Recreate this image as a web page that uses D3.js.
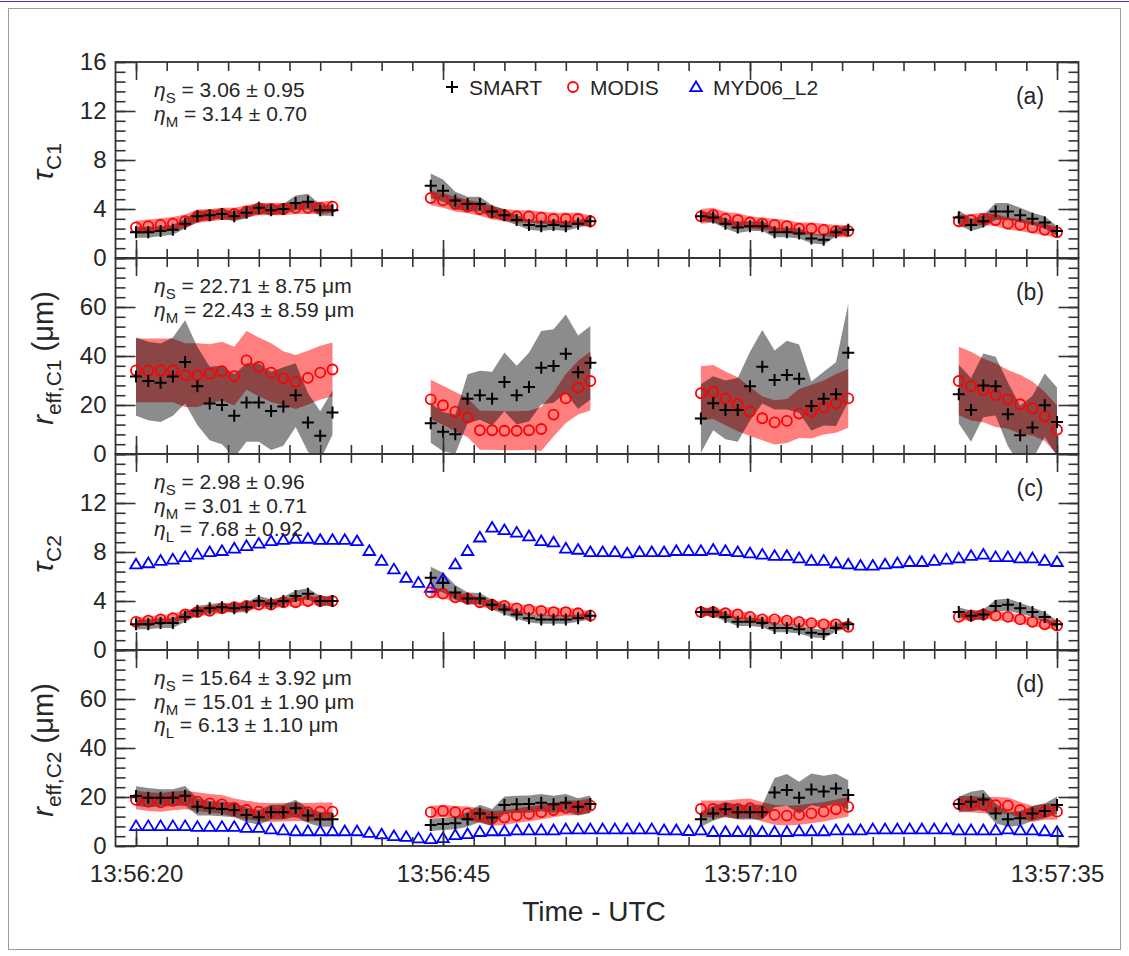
<!DOCTYPE html>
<html>
<head>
<meta charset="utf-8">
<script src="https://cdn.jsdelivr.net/npm/d3@7"></script>
<style>
body { margin: 0; background: #fff; }
svg { display: block; }
text { font-family: "Liberation Sans", Arial, Helvetica, sans-serif; fill: #262626; }
</style>
</head>
<body>
<div id="chart"></div>
<script>
// seconds after 13:56:20 UTC
var smartTimes = [0,1,2,3,4,5,6,7,8,9,10,11,12,13,14,15,16,
	24,25,26,27,28,29,30,31,32,33,34,35,36,37,
	46,47,48,49,50,51,52,53,54,55,56,57,58,
	67,68,69,70,71,72,73,74,75];
var lidarTimes = [0,1,2,3,4,5,6,7,8,9,10,11,12,13,14,15,16,17,18,19,20,21,22,23,24,25,26,27,28,29,
	30,31,32,33,34,35,36,37,38,39,40,41,42,43,44,45,46,47,48,49,50,51,52,53,54,55,56,57,58,59,
	60,61,62,63,64,65,66,67,68,69,70,71,72,73,74,75];

// (a) tau C1
var tauC1Smart = [2.1,2.1,2.2,2.3,2.8,3.4,3.5,3.6,3.4,3.7,4.1,3.9,4.0,4.5,4.6,3.9,3.9,
	5.9,5.5,4.7,4.4,4.4,3.8,3.5,3.1,2.7,2.6,2.7,2.6,2.8,3.0,
	3.4,3.3,2.8,2.5,2.6,2.6,2.1,2.1,2.0,1.6,1.5,2.1,2.3,
	3.3,2.7,3.0,3.8,3.8,3.5,3.2,2.9,2.2];
var tauC1SmartSd = [0.45,0.45,0.4,0.4,0.4,0.45,0.4,0.4,0.4,0.45,0.45,0.4,0.4,0.6,0.65,0.45,0.45,
	1.0,0.9,0.7,0.6,0.6,0.5,0.45,0.4,0.4,0.4,0.4,0.4,0.3,0.3,
	0.4,0.4,0.4,0.45,0.4,0.4,0.4,0.4,0.4,0.4,0.4,0.35,0.4,
	0.6,0.5,0.5,0.7,0.7,0.6,0.5,0.5,0.4];
var tauC1Modis = [2.5,2.6,2.7,2.8,3.0,3.4,3.5,3.6,3.6,3.8,4.0,4.0,4.0,4.1,4.1,4.1,4.2,
	4.9,4.7,4.4,4.2,4.0,3.7,3.5,3.4,3.4,3.3,3.2,3.2,3.2,3.0,
	3.4,3.5,3.2,3.1,2.9,2.8,2.7,2.6,2.4,2.4,2.3,2.2,2.2,
	3.0,3.1,3.2,3.1,2.8,2.7,2.5,2.3,2.1];
var tauC1ModisSd = [0.55,0.55,0.55,0.55,0.55,0.55,0.5,0.5,0.5,0.5,0.5,0.5,0.5,0.5,0.5,0.5,0.5,
	0.6,0.6,0.6,0.55,0.55,0.55,0.5,0.5,0.5,0.5,0.5,0.5,0.5,0.5,
	0.6,0.6,0.55,0.55,0.5,0.5,0.5,0.5,0.5,0.5,0.5,0.5,0.5,
	0.5,0.5,0.5,0.5,0.5,0.5,0.5,0.45,0.45];

// (b) r_eff C1
var refC1Smart = [31.6,29.8,29.1,31.6,37.6,27.7,20.6,20.0,15.6,21.0,21.0,17.6,19.4,24.0,12.9,7.4,16.9,
	12.6,9.1,8.1,22.6,24.0,22.6,29.4,24.0,27.3,35.2,35.9,40.9,33.4,37.2,
	14.5,20.7,18.0,18.0,27.7,35.6,30.2,32.2,30.7,19.6,22.6,24.4,41.3,
	24.4,18.0,28.0,27.7,16.2,7.7,10.8,19.9,13.1];
var refC1SmartSd = [16,16,16,16,17,16,15,16,17,16,16,16,16,13,12,10,9,
	8,8,8,10,10,11,12,12,14,15,15,16,15,15,
	14,11,12,13,14,15,12,14,14,10,11,13,20,
	12,13,13,12,13,12,13,13,14];
var refC1Modis = [34.1,34.1,34.1,34.1,32.2,32.2,32.8,33.8,31.8,38.2,35.6,33.2,30.9,29.4,31.1,33.2,34.5,
	22.3,19.9,17.3,14.9,9.7,9.7,9.5,9.5,9.7,10.2,16.1,22.7,27.1,29.8,
	24.8,25.3,22.7,20.3,17.3,14.6,12.9,13.5,16.5,17.3,19.0,20.7,22.7,
	29.8,27.7,26.0,24.0,22.3,20.3,18.6,15.3,9.9];
var refC1ModisSd = [13,13,13,13,13,13,12,12,12,12,12,12,11,11,11,11,11,
	8,8,8,8,8,8,8,8,8,9,9,10,11,12,
	11,11,11,11,10,9,9,9,10,11,11,12,12,
	14,14,13,13,12,12,11,10,10];

// (c) tau C2
var tauC2Smart = [2.1,2.1,2.2,2.2,2.7,3.2,3.4,3.5,3.4,3.5,4.0,3.8,4.0,4.4,4.6,4.0,4.0,
	5.9,5.5,4.7,4.2,4.2,3.7,3.3,2.9,2.6,2.5,2.5,2.5,2.6,2.8,
	3.1,3.1,2.7,2.3,2.3,2.2,1.8,1.8,1.7,1.4,1.3,1.8,2.1,
	3.1,2.8,2.9,3.6,3.7,3.4,3.1,2.7,2.1];
var tauC2SmartSd = [0.4,0.4,0.4,0.4,0.4,0.4,0.35,0.35,0.35,0.4,0.4,0.35,0.35,0.45,0.45,0.4,0.4,
	0.9,0.8,0.6,0.5,0.45,0.4,0.4,0.35,0.35,0.35,0.35,0.35,0.3,0.3,
	0.35,0.35,0.35,0.35,0.35,0.35,0.35,0.35,0.35,0.35,0.35,0.3,0.3,
	0.4,0.4,0.4,0.5,0.5,0.45,0.4,0.4,0.3];
var tauC2Modis = [2.3,2.4,2.5,2.6,2.9,3.1,3.2,3.4,3.5,3.6,3.7,3.7,3.9,3.9,4.0,4.0,4.0,
	4.7,4.6,4.3,4.2,3.9,3.7,3.6,3.4,3.3,3.2,3.1,3.1,3.0,2.8,
	3.1,3.1,3.0,2.9,2.7,2.5,2.5,2.4,2.3,2.2,2.1,2.1,1.9,
	2.7,2.8,2.9,2.8,2.7,2.5,2.3,2.1,2.0];
var tauC2ModisSd = [0.35,0.35,0.35,0.35,0.35,0.35,0.35,0.35,0.35,0.35,0.35,0.35,0.35,0.35,0.35,0.35,0.35,
	0.4,0.4,0.35,0.35,0.35,0.35,0.35,0.35,0.35,0.35,0.35,0.35,0.35,0.35,
	0.3,0.3,0.3,0.3,0.3,0.3,0.3,0.3,0.3,0.3,0.3,0.3,0.3,
	0.35,0.35,0.35,0.35,0.35,0.35,0.35,0.35,0.35];
var tauC2Lidar = [7.0,7.1,7.3,7.4,7.6,7.8,8.0,8.1,8.3,8.5,
	8.7,8.9,9.0,9.1,9.1,9.0,9.0,9.0,8.9,8.1,
	7.3,6.6,5.9,5.5,5.1,5.8,7.0,8.1,9.2,10.0,
	9.8,9.6,9.3,8.9,8.8,8.3,8.2,8.0,8.0,8.0,
	7.9,8.0,8.0,8.0,8.1,8.1,8.1,8.2,8.1,8.0,
	7.9,7.8,7.7,7.7,7.5,7.3,7.3,7.1,7.0,6.9,
	6.9,7.0,7.1,7.2,7.2,7.3,7.4,7.5,7.7,7.8,
	7.6,7.6,7.5,7.5,7.3,7.2];

// (d) r_eff C2
var refC2Smart = [20.4,19.7,19.7,19.7,20.5,16.0,15.4,15.1,14.7,12.7,11.7,13.8,13.8,15.4,12.4,10.9,10.9,
	8.6,9.0,9.3,10.9,13.3,11.6,16.7,17.0,17.1,17.7,17.0,17.7,16.0,17.1,
	10.9,13.3,15.0,13.8,13.8,13.8,21.8,22.9,19.7,23.1,22.2,23.5,20.8,
	17.1,18.1,19.0,13.3,10.9,11.3,13.3,14.3,16.7];
var refC2SmartSd = [4,4,3.5,3.5,4,3.5,3,3,3,3,3,3,3,3.5,3,3,3,
	2.5,2.5,2.5,3,3.5,3.5,3.5,3.5,3.5,3.5,3.5,3.5,3.5,3.5,
	3,3,3,3,3,3,6,6.5,6.5,6.5,6.5,6,6,
	3,4,4,4,3,3,3,3,3.5];
var refC2Modis = [18.8,18.1,17.8,18.4,18.8,18.1,17.4,17.0,15.6,14.7,14.0,13.6,13.8,14.0,13.8,14.0,14.0,
	13.8,14.3,13.8,13.3,12.4,11.3,11.6,12.4,13.1,13.8,14.7,15.6,15.6,16.5,
	15.1,15.1,15.1,15.1,15.4,14.0,12.7,12.4,12.7,13.3,14.0,15.0,16.0,
	17.1,17.1,16.7,16.7,16.5,14.7,13.1,14.0,14.0];
var refC2ModisSd = [3.8,3.8,3.8,3.8,3.8,3.8,3.8,3.8,3.8,3.8,3.8,3.8,3.8,3.8,3.8,3.8,3.8,
	2.5,2.5,2.5,2.8,3,3,3,3,3,3,3,3,3,3,
	3.5,3.5,3.5,4,4,4,4,4,4,4,4,4,4,
	3.3,3.3,3.3,3.3,3.3,3.3,3.3,3.3,3.3];
var refC2Lidar = [8.2,8.2,8.2,8.2,8.2,7.9,7.9,7.9,7.9,7.5,
	7.5,6.9,6.5,6.1,6.1,6.1,6.1,6.1,6.1,5.4,
	4.8,4.1,3.8,3.2,2.9,3.3,4.5,4.9,5.8,6.1,
	6.1,6.5,6.5,6.5,6.5,6.9,6.9,6.9,6.9,6.9,
	6.9,6.9,6.9,6.5,6.5,6.2,6.5,5.8,5.8,5.8,
	5.8,5.8,5.8,5.8,6.1,6.1,6.1,6.5,6.5,6.5,
	6.9,6.9,6.9,6.9,6.9,6.9,6.9,6.5,6.5,6.5,
	6.5,6.9,6.5,6.5,6.1,5.8];

var statsA = [["S", "3.06 \u00b1 0.95"], ["M", "3.14 \u00b1 0.70"]];
var statsB = [["S", "22.71 \u00b1 8.75 \u03bcm"], ["M", "22.43 \u00b1 8.59 \u03bcm"]];
var statsC = [["S", "2.98 \u00b1 0.96"], ["M", "3.01 \u00b1 0.71"], ["L", "7.68 \u00b1 0.92"]];
var statsD = [["S", "15.64 \u00b1 3.92 \u03bcm"], ["M", "15.01 \u00b1 1.90 \u03bcm"], ["L", "6.13 \u00b1 1.10 \u03bcm"]];

var tauTicks = [0,4,8,12,16];
var refTicks = [0,20,40,60,80];
var xTickSec = [0,25,50,75];
var xTickLabels = ["13:56:20","13:56:45","13:57:10","13:57:35"];
var legendNames = ["SMART","MODIS","MYD06_L2"];

var W = 1129, H = 956;
var left = 115.5, right = 1078.5;
var tops = [62, 258, 454, 650];
var ph = 196;

var panels = [
	{lab:"(a)", dom:[0,16], major:tauTicks, minor:0.8, shown:[0,4,8,12,16], s:tauC1Smart, sSd:tauC1SmartSd, m:tauC1Modis, mSd:tauC1ModisSd, l:null, stats:statsA, tsub:"C1", kind:"tau"},
	{lab:"(b)", dom:[0,80], major:refTicks, minor:4, shown:[0,20,40,60], s:refC1Smart, sSd:refC1SmartSd, m:refC1Modis, mSd:refC1ModisSd, l:null, stats:statsB, tsub:"eff,C1", kind:"ref"},
	{lab:"(c)", dom:[0,16], major:tauTicks, minor:0.8, shown:[0,4,8,12], s:tauC2Smart, sSd:tauC2SmartSd, m:tauC2Modis, mSd:tauC2ModisSd, l:tauC2Lidar, stats:statsC, tsub:"C2", kind:"tau"},
	{lab:"(d)", dom:[0,80], major:refTicks, minor:4, shown:[0,20,40,60], s:refC2Smart, sSd:refC2SmartSd, m:refC2Modis, mSd:refC2ModisSd, l:refC2Lidar, stats:statsD, tsub:"eff,C2", kind:"ref"}
];

var x = d3.scaleLinear().domain([-1.67, 76.75]).range([left, right]);

var svg = d3.select("#chart").append("svg")
	.attr("width", W)
	.attr("height", H);

svg.append("rect")
	.attr("x", 8.5).attr("y", 8.5)
	.attr("width", 1112).attr("height", 941)
	.attr("fill", "none")
	.attr("stroke", "#9a9aa8")
	.attr("stroke-width", 1);
svg.append("line")
	.attr("x1", 0).attr("x2", W)
	.attr("y1", 1.5).attr("y2", 1.5)
	.attr("stroke", "#3a3acc")
	.attr("stroke-width", 1.2);

// split SMART/MODIS samples into flight segments
var segs = [];
smartTimes.forEach(function(t, i) {
	if (i == 0 || t - smartTimes[i-1] > 1) segs.push([]);
	segs[segs.length-1].push(i);
});

var crossPath = "M-6,0H6M0,-6V6";
var triPath = "M0,-5.5L5.8,4.2L-5.8,4.2Z";

panels.forEach(function(p, k) {
	var top = tops[k];
	var y = d3.scaleLinear().domain(p.dom).range([top + ph, top]);

	svg.append("clipPath").attr("id", "clip" + k)
		.append("rect")
		.attr("x", left).attr("y", top)
		.attr("width", right - left).attr("height", ph);

	var g = svg.append("g").attr("clip-path", "url(#clip" + k + ")");

	function band(vals, sd) {
		return d3.area()
			.x(function(i) { return x(smartTimes[i]); })
			.y0(function(i) { return y(vals[i] - sd[i]); })
			.y1(function(i) { return y(vals[i] + sd[i]); });
	}

	var modisBand = band(p.m, p.mSd);
	var smartBand = band(p.s, p.sSd);
	segs.forEach(function(s) {
		g.append("path").attr("d", modisBand(s)).attr("fill", "rgba(255,0,0,0.5)");
	});
	segs.forEach(function(s) {
		g.append("path").attr("d", smartBand(s)).attr("fill", "rgba(0,0,0,0.45)");
	});

	if (p.l) {
		g.selectAll(".tri")
			.data(p.l)
			.enter().append("path")
			.attr("d", triPath)
			.attr("transform", function(d, i) { return "translate(" + x(lidarTimes[i]) + "," + y(d) + ")"; })
			.attr("fill", "none")
			.attr("stroke", "#0000ff")
			.attr("stroke-width", 1.8);
	}

	g.selectAll(".circ")
		.data(p.m)
		.enter().append("circle")
		.attr("cx", function(d, i) { return x(smartTimes[i]); })
		.attr("cy", function(d) { return y(d); })
		.attr("r", 5)
		.attr("fill", "none")
		.attr("stroke", "#ff0000")
		.attr("stroke-width", 1.8);

	g.selectAll(".cross")
		.data(p.s)
		.enter().append("path")
		.attr("d", crossPath)
		.attr("transform", function(d, i) { return "translate(" + x(smartTimes[i]) + "," + y(d) + ")"; })
		.attr("stroke", "#000")
		.attr("stroke-width", 2);

	// axes, all ticks pointing inward
	var minorY = d3.range(p.dom[0], p.dom[1] + 0.001, p.minor);
	var ax = svg.append("g").attr("class", "axes");
	ax.append("g").attr("transform", "translate(" + left + ",0)")
		.call(d3.axisLeft(y).tickValues(minorY).tickSize(-10).tickFormat(""));
	ax.append("g").attr("transform", "translate(" + right + ",0)")
		.call(d3.axisRight(y).tickValues(minorY).tickSize(-10).tickFormat(""));
	ax.append("g").attr("transform", "translate(" + left + ",0)")
		.call(d3.axisLeft(y).tickValues(p.major).tickSize(-20).tickPadding(9)
			.tickFormat(function(d) { return p.shown.indexOf(d) >= 0 ? d : ""; }));
	ax.append("g").attr("transform", "translate(" + right + ",0)")
		.call(d3.axisRight(y).tickValues(p.major).tickSize(-20).tickFormat(""));

	var minorX = d3.range(0, 76, 2.5);
	ax.append("g").attr("transform", "translate(0," + top + ")")
		.call(d3.axisTop(x).tickValues(minorX).tickSize(-9).tickFormat(""));
	ax.append("g").attr("transform", "translate(0," + (top + ph) + ")")
		.call(d3.axisBottom(x).tickValues(minorX).tickSize(-9).tickFormat(""));
	ax.append("g").attr("transform", "translate(0," + top + ")")
		.call(d3.axisTop(x).tickValues(xTickSec).tickSize(-18).tickFormat(""));
	ax.append("g").attr("transform", "translate(0," + (top + ph) + ")")
		.call(d3.axisBottom(x).tickValues(xTickSec).tickSize(-18).tickPadding(19)
			.tickFormat(function(d, i) { return k == 3 ? xTickLabels[i] : ""; }));

	ax.selectAll(".domain").remove();
	ax.selectAll(".tick line").attr("stroke", "#333").attr("stroke-width", 1.6);
	ax.selectAll(".tick text").style("font-size", "24px").attr("fill", "#262626");

	svg.append("rect")
		.attr("x", left).attr("y", top)
		.attr("width", right - left).attr("height", ph)
		.attr("fill", "none")
		.attr("stroke", "#333")
		.attr("stroke-width", 1.8);

	// statistics text
	p.stats.forEach(function(st, j) {
		var t = svg.append("text")
			.attr("x", 154)
			.attr("y", top + 35 + j * 23.5)
			.style("font-size", "21px");
		t.append("tspan").text("\u03b7").style("font-style", "italic");
		t.append("tspan").text(st[0]).attr("dy", 6).style("font-size", "15px");
		t.append("tspan").text(" = " + st[1]).attr("dy", -6);
	});

	svg.append("text")
		.attr("x", 1030)
		.attr("y", top + 42)
		.attr("text-anchor", "middle")
		.style("font-size", "23px")
		.text(p.lab);

	// y title
	var yt = svg.append("text")
		.attr("transform", "translate(53," + (top + ph / 2 + 2) + ") rotate(-90)")
		.attr("text-anchor", "middle")
		.style("font-size", "29px");
	if (p.kind == "tau") {
		yt.append("tspan").text("\u03c4").style("font-style", "italic");
		yt.append("tspan").text(p.tsub).attr("dy", 8).style("font-size", "21px");
	} else {
		yt.append("tspan").text("r").style("font-style", "italic");
		yt.append("tspan").text(p.tsub).attr("dy", 8).style("font-size", "21px");
		yt.append("tspan").text(" (\u03bcm)").attr("dy", -8);
	}
});

// legend
var lg = svg.append("g").attr("transform", "translate(0,87)");
var legX = [452, 573, 696];
lg.append("path").attr("d", crossPath).attr("transform", "translate(" + legX[0] + ",0)")
	.attr("stroke", "#000").attr("stroke-width", 2);
lg.append("circle").attr("cx", legX[1]).attr("cy", 0).attr("r", 5)
	.attr("fill", "none").attr("stroke", "#ff0000").attr("stroke-width", 1.8);
lg.append("path").attr("d", triPath).attr("transform", "translate(" + legX[2] + ",0)")
	.attr("fill", "none").attr("stroke", "#0000ff").attr("stroke-width", 1.8);
legendNames.forEach(function(n, i) {
	lg.append("text")
		.attr("x", legX[i] + 17)
		.attr("y", 7.5)
		.style("font-size", "21px")
		.text(n);
});

svg.append("text")
	.attr("x", 594)
	.attr("y", 921)
	.attr("text-anchor", "middle")
	.style("font-size", "28px")
	.text("Time - UTC");
</script>
</body>
</html>
